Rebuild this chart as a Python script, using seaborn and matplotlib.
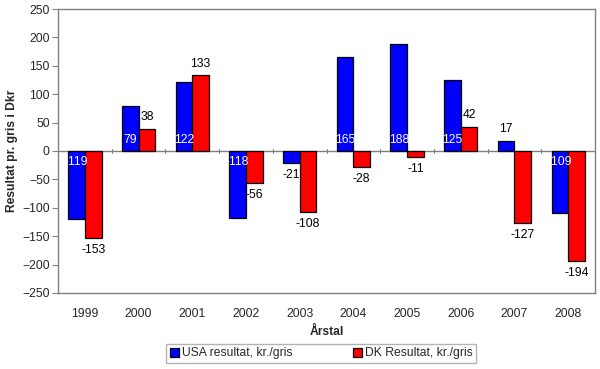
import numpy as np
import pandas as pd
import seaborn as sns
import matplotlib.pyplot as plt

# Data
years = ["1999", "2000", "2001", "2002", "2003", "2004", "2005", "2006", "2007", "2008"]
usa = [-119, 79, 122, -118, -21, 165, 188, 125, 17, -109]
dk = [-153, 38, 133, -56, -108, -28, -11, 42, -127, -194]
series_names = ["USA resultat, kr./gris", "DK Resultat, kr./gris"]
colors = ["#0000FF", "#FF0000"]

df = pd.DataFrame({
    "Årstal": years * 2,
    "value": usa + dk,
    "serie": [series_names[0]] * len(years) + [series_names[1]] * len(years),
})

fs = 8.7
sns.set_style("white")
plt.rcParams["font.family"] = ["Liberation Sans", "DejaVu Sans"]
plt.rcParams["font.size"] = fs

fig = plt.figure(figsize=(6, 3.69), dpi=100)
ax = fig.add_axes([0.0967, 0.206, 0.895, 0.7696])

sns.barplot(data=df, x="Årstal", y="value", hue="serie", palette=colors,
            saturation=1, width=0.62, edgecolor="black", linewidth=0.9, ax=ax)

ax.set_ylim(-250, 250)
ax.set_xlim(-0.5, len(years) - 0.5)
ax.set_yticks(np.arange(-250, 251, 50))
ax.axhline(0, color="#808080", lw=1, zorder=0.5)
# small category tick marks on the zero line
for i in range(len(years) - 1):
    ax.plot([i + 0.5, i + 0.5], [-4, 4], color="#808080", lw=0.8, zorder=0.5)

for s in ax.spines.values():
    s.set_color("#808080")
    s.set_linewidth(1)
ax.tick_params(axis="y", length=4, color="#808080", direction="out", left=True, labelsize=fs, pad=2)
ax.tick_params(axis="x", length=0, labelsize=fs, pad=11)

ax.set_xlabel("Årstal", fontweight="bold", fontsize=fs, labelpad=4)
ax.set_ylabel("Resultat pr. gris i Dkr", fontweight="bold", fontsize=fs, labelpad=3)

# value labels
for k, (cont, vals) in enumerate(zip(ax.containers, [usa, dk])):
    for bar, v in zip(cont, vals):
        x = bar.get_x() + bar.get_width() / 2
        sgn = 1 if v >= 0 else -1
        if k == 0 and abs(v) >= 50:
            ax.text(x, sgn * 20, f"{v}", color="white", ha="center", va="center", fontsize=fs)
        else:
            ax.text(x, v + sgn * 21, f"{v}", color="black", ha="center", va="center", fontsize=fs)

handles, labels = ax.get_legend_handles_labels()
ax.get_legend().remove()
fig.legend(handles, labels, loc="lower center", bbox_to_anchor=(0.535, 0.0), ncol=2,
           frameon=True, fancybox=False, edgecolor="#a0a0a0", fontsize=fs,
           handlelength=0.8, handleheight=0.8, handletextpad=0.2, columnspacing=5,
           borderpad=0.3)

fig.savefig("out.png", dpi=100)
